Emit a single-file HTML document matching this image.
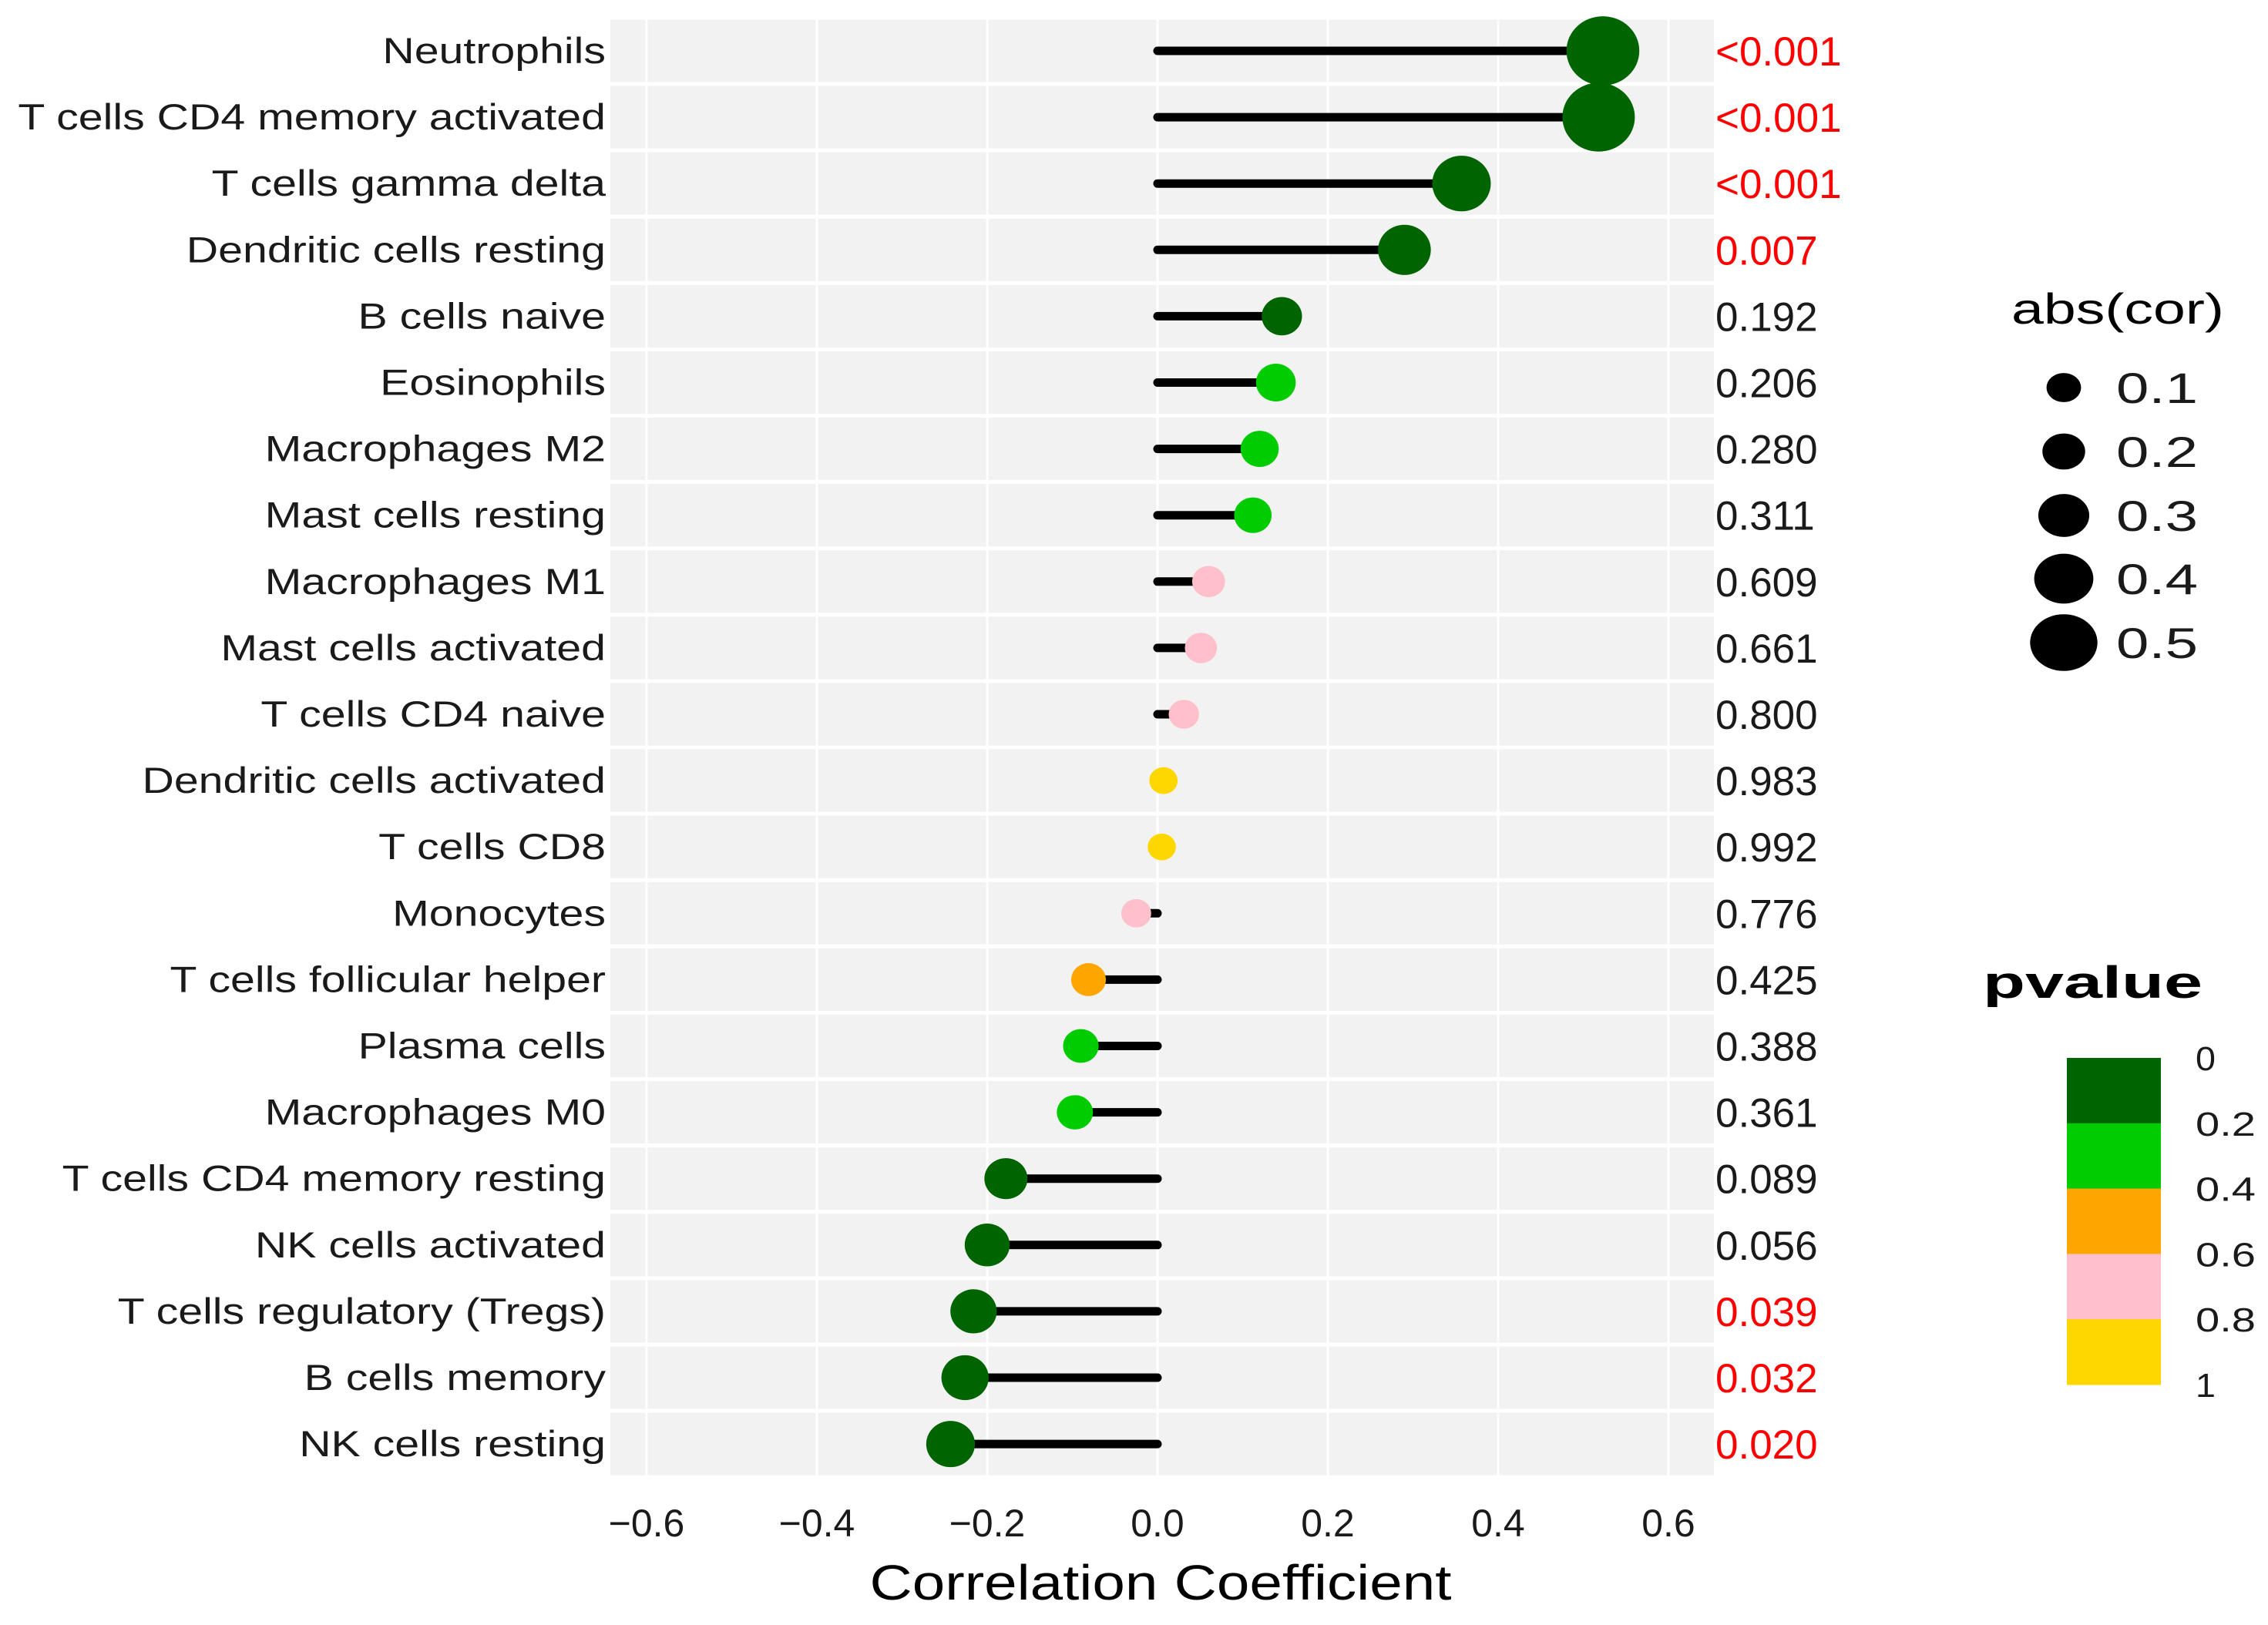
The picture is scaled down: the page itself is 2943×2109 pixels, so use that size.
<!DOCTYPE html>
<html><head><meta charset="utf-8"><style>
html,body{margin:0;padding:0;background:#fff}
svg{display:block;font-family:"Liberation Sans",Arial,sans-serif}
</style></head><body>
<svg id="chart" width="2943" height="2109" viewBox="0 0 2943 2109" xmlns="http://www.w3.org/2000/svg">
<g id="plot"></g>
<g id="legend"></g>
</svg>
<script>
const categories = ["Neutrophils","T cells CD4 memory activated","T cells gamma delta","Dendritic cells resting","B cells naive","Eosinophils","Macrophages M2","Mast cells resting","Macrophages M1","Mast cells activated","T cells CD4 naive","Dendritic cells activated","T cells CD8","Monocytes","T cells follicular helper","Plasma cells","Macrophages M0","T cells CD4 memory resting","NK cells activated","T cells regulatory (Tregs)","B cells memory","NK cells resting"];
const corValues = [0.523,0.518,0.357,0.29,0.146,0.139,0.12,0.112,0.06,0.051,0.031,0.007,0.005,-0.025,-0.081,-0.09,-0.097,-0.178,-0.2,-0.216,-0.226,-0.243];
const pValues = [0.0005,0.0005,0.0005,0.007,0.192,0.206,0.280,0.311,0.609,0.661,0.800,0.983,0.992,0.776,0.425,0.388,0.361,0.089,0.056,0.039,0.032,0.020];
const pLabels = ["<0.001","<0.001","<0.001","0.007","0.192","0.206","0.280","0.311","0.609","0.661","0.800","0.983","0.992","0.776","0.425","0.388","0.361","0.089","0.056","0.039","0.032","0.020"];
const xTicks = [-0.6,-0.4,-0.2,0,0.2,0.4,0.6];
const xTickLabels = ["\u22120.6","\u22120.4","\u22120.2","0.0","0.2","0.4","0.6"];
const sizeLegendValues = [0.1,0.2,0.3,0.4,0.5];
const colorLegendLabels = ["0","0.2","0.4","0.6","0.8","1"];
const binColors = ["#006400","#00CC00","#FFA500","#FFC0CB","#FFD700"];

const NS="http://www.w3.org/2000/svg";
const P={left:792,right:2224,top:22,bottom:1919};
const X0=1502, PER=1105;
const xs=v=>X0+v*PER;
const ROW0=66, ROWH=86.1;
const ys=i=>ROW0+i*ROWH;
const rad=a=>18+56*a;
const colorOf=p=>binColors[Math.max(0,Math.min(4,Math.ceil(p/0.2-1e-9)-1))];
function mk(tag,attrs,parent){const e=document.createElementNS(NS,tag);for(const k in attrs)e.setAttribute(k,attrs[k]);parent.appendChild(e);return e;}
const plot=document.getElementById('plot'), leg=document.getElementById('legend');

const bg=mk('rect',{x:P.left,y:P.top,width:P.right-P.left,height:P.bottom-P.top,fill:'#F2F2F2'},plot);


xTicks.forEach(t=>{const l=mk('line',{x1:xs(t),x2:xs(t),y1:P.top,y2:P.bottom,stroke:'#fff','stroke-width':3},plot);

});
for(let i=0;i<=categories.length;i++){const y=ROW0+(i-0.5)*ROWH;
const l=mk('line',{x1:P.left,x2:P.right,y1:y,y2:y,stroke:'#fff','stroke-width':5},plot);

}

const labelTexts=[];
categories.forEach((c,i)=>{
 const y=ys(i), v=corValues[i];
 const st=mk('line',{x1:xs(0),x2:xs(v),y1:y,y2:y,stroke:'#000','stroke-width':11,'stroke-linecap':'round'},plot);
 
 
 const d=mk('ellipse',{cx:xs(v),cy:y,rx:rad(Math.abs(v)),ry:rad(Math.abs(v))*0.95,fill:colorOf(pValues[i])},plot);
 
 
 const t=mk('text',{x:0,y:0,'font-size':47,fill:'#1a1a1a','text-anchor':'end',transform:`translate(786,${y+16})`},plot);
 t.textContent=c;
 
 
 labelTexts.push(t);
 const p=mk('text',{x:2226,y:y+19,'font-size':53,fill:i<4||pValues[i]<0.05?'#FF0000':'#1a1a1a'},plot);
 p.textContent=pLabels[i];
 
 
});
const longest=labelTexts[1].getComputedTextLength();
const sc=763/longest;
labelTexts.forEach((t,i)=>t.setAttribute('transform',`translate(786,${ys(i)+16}) scale(${sc},1)`));

xTicks.forEach((t,i)=>{const tx=mk('text',{x:xs(t),y:1994,'font-size':50,fill:'#1a1a1a','text-anchor':'middle'},plot);
tx.textContent=xTickLabels[i];

});
const xt=mk('text',{x:1506,y:2076,'font-size':64,fill:'#000','text-anchor':'middle',textLength:755,lengthAdjust:'spacingAndGlyphs'},plot);
xt.textContent="Correlation Coefficient";



const st=mk('text',{x:2610,y:420,'font-size':56,fill:'#000',textLength:276,lengthAdjust:'spacingAndGlyphs'},leg);
st.textContent="abs(cor)";


const legY=[503,586,669,751,834];
sizeLegendValues.forEach((v,i)=>{
 const e=mk('ellipse',{cx:2678,cy:legY[i],rx:rad(v)*0.95,ry:rad(v)*0.8,fill:'#000'},leg);
 
 
 const t=mk('text',{x:2746,y:legY[i]+20,'font-size':56,fill:'#1a1a1a',textLength:106,lengthAdjust:'spacingAndGlyphs'},leg);
 t.textContent=String(v);
 
 
});
const ct=mk('text',{x:2573,y:1295,'font-size':58,'font-weight':'bold',fill:'#000',textLength:285,lengthAdjust:'spacingAndGlyphs'},leg);
ct.textContent="pvalue";


const cbTop=1373, cbH=(1797-1373)/5;
binColors.forEach((c,i)=>{const r=mk('rect',{x:2682,y:cbTop+i*cbH,width:122,height:cbH+0.5,fill:c},leg);

});
colorLegendLabels.forEach((l,i)=>{const t=mk('text',{x:2849,y:cbTop+i*cbH+16,'font-size':44,fill:'#1a1a1a',textLength:l.length>1?78:26,lengthAdjust:'spacingAndGlyphs'},leg);
t.textContent=l;

});
</script>
</body></html>
